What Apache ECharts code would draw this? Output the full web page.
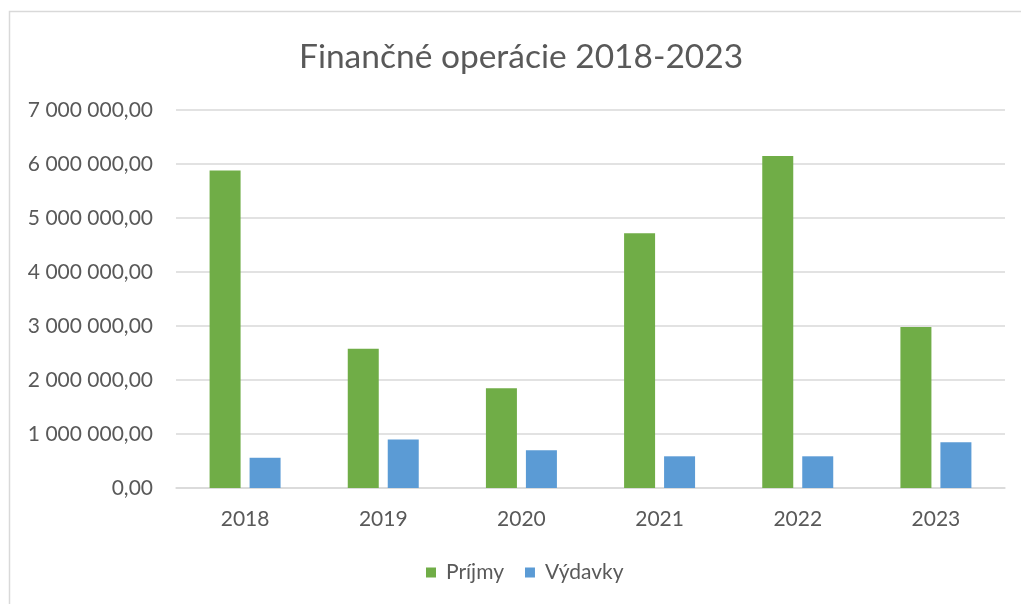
<!DOCTYPE html>
<html><head><meta charset="utf-8">
<script src="https://cdn.jsdelivr.net/npm/echarts@6/dist/echarts.min.js"></script>
<style>html,body{margin:0;padding:0;background:#fff}#c{width:1021px;height:604px}</style>
</head><body><div id="c"></div>
<script>
const categories = ['2018','2019','2020','2021','2022','2023'];
const prijmy = [5880000, 2580000, 1846000, 4717000, 6148000, 2980000];
const vydavky = [560000, 900000, 700000, 587000, 587000, 846000];
const seriesNames = ['Príjmy','Výdavky'];
const titleText = 'Finančné operácie 2018-2023';

function fmt(v){
  const s = Math.round(v).toString().replace(/\B(?=(\d{3})+(?!\d))/g,' ');
  return s + ',00';
}
const FONT = 'Lato';
const chart = echarts.init(document.getElementById('c'));
chart.setOption({
  animation:false,
  backgroundColor:'#fff',
  graphic:[{type:'rect',shape:{x:9.5,y:11.5,width:1040,height:700},style:{fill:'none',stroke:'#d9d9d9',lineWidth:1.5},silent:true}],
  title:{text:titleText,left:299,top:40,padding:0,textStyle:{fontFamily:FONT,fontSize:33.5,fontWeight:'normal',color:'#595959'}},
  legend:{top:562,left:426,padding:0,itemWidth:10,itemHeight:10,itemGap:21,icon:'rect',textStyle:{fontFamily:FONT,fontSize:21,color:'#595959',padding:[0,0,0,5]},data:seriesNames},
  grid:{left:176,right:16,top:110,bottom:116,containLabel:false},
  xAxis:{type:'category',data:categories,axisLine:{lineStyle:{color:'#d9d9d9',width:1.5}},axisTick:{show:false},
    axisLabel:{fontFamily:FONT,fontSize:21,color:'#595959',margin:21}},
  yAxis:{type:'value',min:0,max:7000000,interval:1000000,axisLine:{show:false},axisTick:{show:false},
    splitLine:{lineStyle:{color:'#d9d9d9',width:1.5}},
    axisLabel:{fontFamily:FONT,fontSize:21,color:'#595959',margin:23,formatter:fmt}},
  series:[
    {name:seriesNames[0],type:'bar',data:prijmy,barWidth:31,barGap:'29%',itemStyle:{color:'#70AD47'}},
    {name:seriesNames[1],type:'bar',data:vydavky,barWidth:31,itemStyle:{color:'#5B9BD5'}}
  ]
});
</script></body></html>
